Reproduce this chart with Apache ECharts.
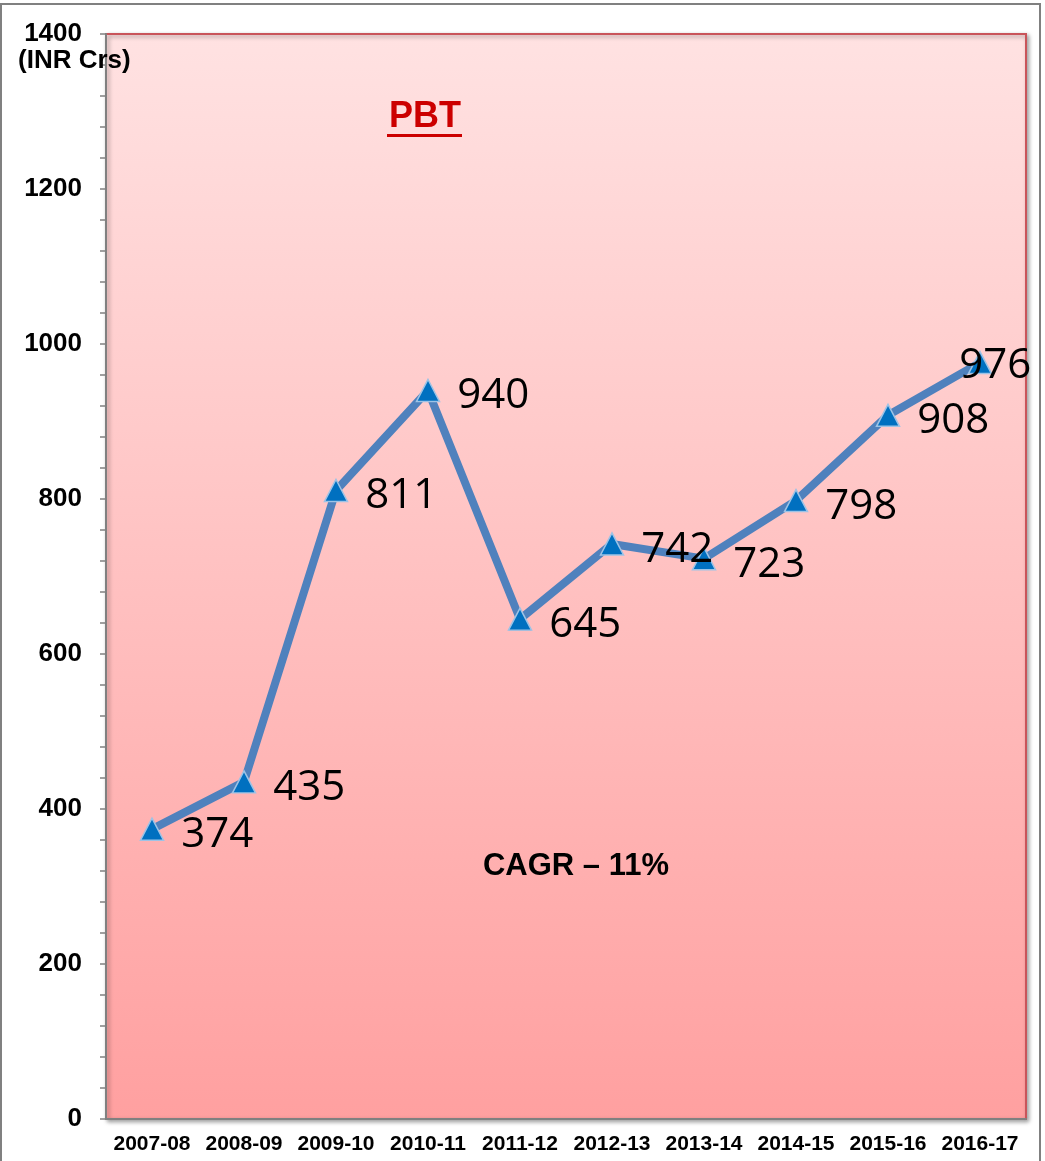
<!DOCTYPE html>
<html>
<head>
<meta charset="utf-8">
<script src="https://cdn.jsdelivr.net/npm/echarts@6/dist/echarts.min.js"></script>
<style>html,body{margin:0;padding:0;background:#fff;}#c{width:1045px;height:1161px;}</style>
</head>
<body>
<div id="c"></div>
<script>
const categories = ['2007-08','2008-09','2009-10','2010-11','2011-12','2012-13','2013-14','2014-15','2015-16','2016-17'];
const pbtValues = [374, 435, 811, 940, 645, 742, 723, 798, 908, 976];
const yTicks = { min: 0, max: 1400, interval: 200 };

const chart = echarts.init(document.getElementById('c'));
const seriesData = pbtValues.map((v, i) => {
  const d = { value: v };
  if (i === pbtValues.length - 1) d.label = { offset: [-50, 3] };
  return d;
});
chart.setOption({
  animation: false,
  backgroundColor: '#ffffff',
  grid: {
    left: 106, top: 34, right: 19, bottom: 42,
    show: true,
    backgroundColor: new echarts.graphic.LinearGradient(0, 0, 0, 1, [
      { offset: 0, color: '#FFE2E2' },
      { offset: 1, color: '#FFA0A0' }
    ]),
    borderColor: '#C9545A',
    borderWidth: 2,
    shadowColor: 'rgba(0,0,0,0.35)',
    shadowBlur: 4,
    shadowOffsetX: 2,
    shadowOffsetY: 2
  },
  xAxis: {
    type: 'category',
    data: categories,
    boundaryGap: true,
    axisLine: { show: true, lineStyle: { color: '#808080', width: 2 } },
    axisTick: { show: false },
    axisLabel: { interval: 0, margin: 15, fontFamily: 'Liberation Sans', fontWeight: 'bold', fontSize: 21, color: '#000' },
    splitLine: { show: false }
  },
  yAxis: {
    type: 'value',
    min: yTicks.min, max: yTicks.max, interval: yTicks.interval,
    axisLine: { show: true, lineStyle: { color: '#808080', width: 2 } },
    axisTick: { show: true, length: 6, lineStyle: { color: '#808080', width: 1.5 } },
    minorTick: { show: true, splitNumber: 5, length: 6, lineStyle: { color: '#808080', width: 1.5 } },
    axisLabel: { margin: 24, fontFamily: 'Liberation Sans', fontWeight: 'bold', fontSize: 26, color: '#000', formatter: v => String(v) },
    splitLine: { show: false }
  },
  series: [{
    type: 'line',
    data: seriesData,
    lineStyle: { color: '#4F81BD', width: 8 },
    symbol: 'triangle',
    symbolSize: [23, 22],
    itemStyle: { color: '#0070C0', borderColor: '#9DC3E6', borderWidth: 1.5 },
    label: {
      show: true, position: 'right', distance: 17, offset: [0, 6],
      fontFamily: 'Open Sans', fontSize: 42, color: '#000'
    },
    z: 3
  }],
  graphic: [
    { type: 'rect', shape: { x: 1, y: 4, width: 1039, height: 1200 }, style: { fill: 'none', stroke: '#808080', lineWidth: 2 }, z: -1, silent: true },
    { type: 'text', x: 18, y: 61, style: { text: '(INR Crs)', fontFamily: 'Liberation Sans', fontWeight: 'bold', fontSize: 26, fill: '#000', textVerticalAlign: 'middle' }, z: 10 },
    { type: 'text', x: 425, y: 117, style: { text: 'PBT', fontFamily: 'Liberation Sans', fontWeight: 'bold', fontSize: 36, fill: '#CC0000', textAlign: 'center', textVerticalAlign: 'middle' }, z: 10 },
    { type: 'rect', shape: { x: 387, y: 134, width: 75, height: 3 }, style: { fill: '#CC0000' }, z: 10 },
    { type: 'text', x: 576, y: 866, style: { text: 'CAGR – 11%', fontFamily: 'Liberation Sans', fontWeight: 'bold', fontSize: 31, fill: '#000', textAlign: 'center', textVerticalAlign: 'middle' }, z: 10 }
  ]
});
</script>
</body>
</html>
